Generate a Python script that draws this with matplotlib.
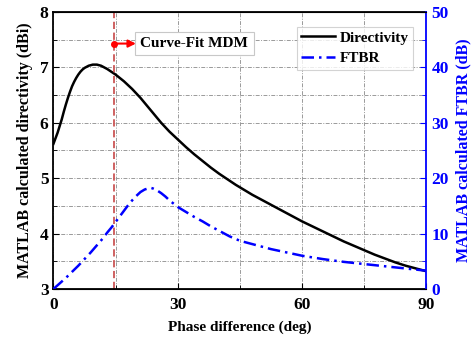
import matplotlib
matplotlib.use("Agg")
import matplotlib.pyplot as plt
import numpy as np
from matplotlib.ticker import MultipleLocator

plt.rcParams['font.family'] = ['Liberation Serif', 'DejaVu Serif']
plt.rcParams['font.weight'] = 'bold'

# Directivity (dBi) vs phase difference (deg)
dir_phase = [0, 0.5, 1, 1.5, 2, 2.5, 3, 3.5, 4, 4.5, 5, 5.5, 6, 6.5, 7, 7.5, 8, 8.5, 9, 9.5,
             10, 10.5, 11, 11.5, 12, 13, 14, 15, 16, 17, 18, 19, 20, 21, 22, 23, 24, 25,
             26, 27, 28, 29, 30, 32, 34, 36, 38, 40, 42, 44, 46, 48, 50, 52.5, 55, 57.5,
             60, 62.5, 65, 67.5, 70, 72.5, 75, 77.5, 80, 82.5, 85, 87.5, 90]
dir_vals = [5.62, 5.72, 5.82, 5.94, 6.06, 6.2, 6.33, 6.45, 6.56, 6.66, 6.74, 6.81, 6.87,
            6.92, 6.96, 6.99, 7.01, 7.03, 7.04, 7.05, 7.05, 7.05, 7.04, 7.03, 7.01, 6.97,
            6.92, 6.87, 6.81, 6.75, 6.68, 6.61, 6.53, 6.45, 6.36, 6.27, 6.18, 6.09, 6.00,
            5.92, 5.84, 5.77, 5.70, 5.56, 5.43, 5.31, 5.19, 5.08, 4.98, 4.88, 4.79, 4.70,
            4.62, 4.52, 4.42, 4.32, 4.22, 4.13, 4.04, 3.95, 3.86, 3.78, 3.70, 3.62, 3.55,
            3.48, 3.42, 3.37, 3.32]

# FTBR (dB) vs phase difference (deg)
ftbr_phase = [0, 1.5, 3, 4.5, 6, 7.5, 9, 10.5, 12, 13, 14, 15, 16, 17, 18, 19, 20, 21, 22,
              23, 23.5, 24, 25, 26, 27, 28, 29, 30, 32, 34, 36, 38, 40, 42.5, 45, 47.5,
              50, 52.5, 55, 57.5, 60, 62.5, 65, 67.5, 70, 72.5, 75, 77.5, 80, 82.5, 85,
              87.5, 90]
ftbr_vals = [0, 1.0, 2.0, 3.1, 4.2, 5.4, 6.6, 7.9, 9.2, 10.2, 11.1, 12.1, 13.1, 14.1, 15.1,
             16.0, 16.8, 17.5, 17.95, 18.2, 18.25, 18.15, 17.8, 17.3, 16.7, 16.0, 15.4,
             14.8, 13.9, 13.0, 12.2, 11.3, 10.5, 9.5, 8.7, 8.2, 7.7, 7.2, 6.8, 6.4, 6.0,
             5.7, 5.4, 5.15, 4.9, 4.7, 4.5, 4.3, 4.1, 3.9, 3.7, 3.5, 3.3]

mdm_phase = 14.5
annot_text = "Curve-Fit MDM"

fig = plt.figure(figsize=(4.77, 3.38), dpi=100)
ax = fig.add_axes([0.112, 0.145, 0.782, 0.8195])
ax2 = ax.twinx()

blue = '#0000ff'
ax.set_xlim(0, 90)
ax.set_ylim(3, 8)
ax2.set_ylim(0, 50)

ax.xaxis.set_major_locator(MultipleLocator(30))
ax.xaxis.set_minor_locator(MultipleLocator(15))
ax.yaxis.set_major_locator(MultipleLocator(1))
ax.yaxis.set_minor_locator(MultipleLocator(0.5))
ax2.yaxis.set_major_locator(MultipleLocator(10))
ax2.yaxis.set_minor_locator(MultipleLocator(5))

ax.grid(True, which='both', color='#9a9a9a', linestyle=(0, (4, 1.5, 1, 1.5)), linewidth=0.7)
ax.set_axisbelow(True)

l1, = ax.plot(dir_phase, dir_vals, color='black', linewidth=1.8, label='Directivity')
l2, = ax2.plot(ftbr_phase, ftbr_vals, color=blue, linewidth=1.8,
               linestyle=(0, (5, 2, 1, 2)), label='FTBR')

ax.axvline(mdm_phase, color='#cc5555', linestyle=(0, (4, 2)), linewidth=1.3)
ax.annotate('', xy=(mdm_phase + 5.4, 7.43), xytext=(mdm_phase, 7.43),
            arrowprops=dict(arrowstyle='-|>', color='red', lw=1.5, mutation_scale=11,
                            shrinkA=0, shrinkB=0))
ax.plot([mdm_phase], [7.43], 'o', color='red', markersize=4)
ax.text(21.0, 7.43, annot_text, fontsize=11, fontweight='bold', va='center', ha='left',
        bbox=dict(boxstyle='square,pad=0.35', facecolor='white', edgecolor='#c8c8c8', linewidth=0.8))

leg = ax.legend(handles=[l1, l2], loc='upper right', bbox_to_anchor=(0.985, 0.975),
                prop={'weight': 'bold', 'size': 11}, frameon=True, fancybox=False,
                edgecolor='#c8c8c8', handlelength=2.2, handletextpad=0.3, borderpad=0.3,
                labelspacing=0.45)
leg.get_frame().set_linewidth(0.8)

ax.tick_params(axis='both', which='both', direction='in', labelsize=12.5)
ax.tick_params(which='major', length=4)
ax.tick_params(which='minor', length=3)
ax.tick_params(axis='y', right=False)
ax.tick_params(axis='x', top=False, pad=6)
for lbl in ax.get_xticklabels() + ax.get_yticklabels():
    lbl.set_fontweight('bold')

ax2.tick_params(axis='y', which='both', direction='in', colors=blue, labelsize=12.5)
ax2.tick_params(which='major', length=4)
ax2.tick_params(which='minor', length=3)
for lbl in ax2.get_yticklabels():
    lbl.set_fontweight('bold')

for s in ['left', 'bottom', 'top']:
    ax.spines[s].set_linewidth(1.3)
ax2.spines['right'].set_color(blue)
ax2.spines['right'].set_linewidth(1.3)
ax2.spines['left'].set_visible(False)
ax.spines['right'].set_visible(False)

ax.set_xlabel('Phase difference (deg)', fontsize=11, fontweight='bold', labelpad=5)
ax.set_ylabel('MATLAB calculated directivity (dBi)', fontsize=11.5, fontweight='bold', labelpad=5)
ax2.set_ylabel('MATLAB calculated FTBR (dB)', fontsize=11.5, fontweight='bold', color=blue, labelpad=5)

fig.savefig('out.png', dpi=100)
